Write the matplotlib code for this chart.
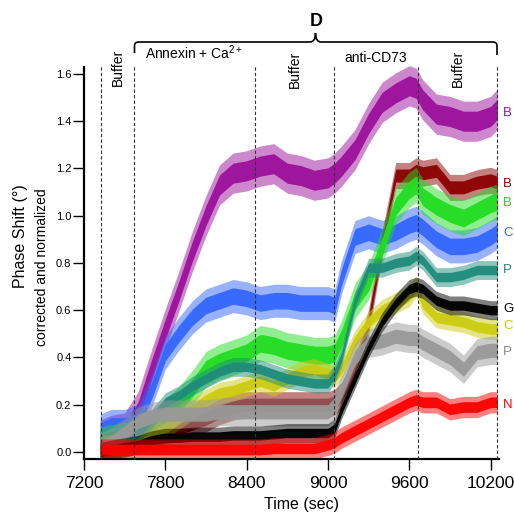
import numpy as np
import matplotlib
matplotlib.use('Agg')
import matplotlib.pyplot as plt
from matplotlib.path import Path
from matplotlib.patches import PathPatch
import matplotlib.transforms as mtransforms

plt.rcParams['font.family'] = ['Liberation Sans', 'DejaVu Sans']
plt.rcParams['mathtext.fontset'] = 'custom'
plt.rcParams['mathtext.rm'] = 'Liberation Sans'
plt.rcParams['mathtext.it'] = 'Liberation Sans:italic'
plt.rcParams['mathtext.bf'] = 'Liberation Sans:bold'

# ---------------- data ----------------
time_s = [7320, 7400, 7500, 7600, 7700, 7800, 7900, 8000, 8100, 8200, 8300,
          8400, 8500, 8600, 8700, 8800, 8900, 9000, 9050, 9100, 9200, 9300,
          9400, 9500, 9600, 9650, 9700, 9800, 9900, 10000, 10100, 10200, 10250]

purple = [0.05, 0.07, 0.08, 0.17, 0.35, 0.52, 0.68, 0.85, 1.00, 1.13, 1.18,
          1.19, 1.21, 1.22, 1.18, 1.17, 1.15, 1.16, 1.18, 1.21, 1.28, 1.39,
          1.48, 1.52, 1.55, 1.54, 1.49, 1.43, 1.42, 1.40, 1.40, 1.42, 1.45]
darkred = [0.02, 0.03, 0.04, 0.05, 0.07, 0.09, 0.10, 0.12, 0.14, 0.17, 0.19,
           0.20, 0.20, 0.20, 0.20, 0.20, 0.20, 0.20, 0.21, 0.24, 0.34, 0.55,
           0.88, 1.17, 1.17, 1.19, 1.18, 1.19, 1.12, 1.12, 1.14, 1.15, 1.14]
green = [0.03, 0.04, 0.05, 0.07, 0.10, 0.15, 0.20, 0.27, 0.35, 0.38, 0.40,
         0.42, 0.46, 0.45, 0.43, 0.42, 0.41, 0.41, 0.42, 0.48, 0.64, 0.72,
         0.87, 1.04, 1.11, 1.13, 1.08, 1.04, 1.01, 0.99, 1.02, 1.05, 1.06]
blue = [0.09, 0.11, 0.11, 0.13, 0.26, 0.42, 0.50, 0.57, 0.62, 0.64, 0.66,
        0.65, 0.63, 0.64, 0.64, 0.63, 0.63, 0.63, 0.62, 0.74, 0.91, 0.93,
        0.91, 0.93, 0.96, 0.97, 0.95, 0.90, 0.87, 0.87, 0.88, 0.91, 0.93]
teal = [0.03, 0.04, 0.05, 0.08, 0.14, 0.21, 0.24, 0.28, 0.31, 0.34, 0.36,
        0.36, 0.35, 0.33, 0.31, 0.30, 0.29, 0.29, 0.33, 0.40, 0.64, 0.78,
        0.78, 0.80, 0.81, 0.83, 0.81, 0.74, 0.74, 0.75, 0.77, 0.77, 0.77]
yellow = [0.02, 0.03, 0.04, 0.05, 0.07, 0.10, 0.14, 0.18, 0.22, 0.25, 0.26,
          0.28, 0.30, 0.28, 0.31, 0.34, 0.35, 0.33, 0.32, 0.35, 0.47, 0.55,
          0.60, 0.63, 0.66, 0.70, 0.63, 0.57, 0.56, 0.55, 0.53, 0.52, 0.52]
black = [0.00, 0.01, 0.02, 0.03, 0.05, 0.06, 0.06, 0.065, 0.065, 0.065, 0.07,
         0.07, 0.07, 0.075, 0.08, 0.08, 0.08, 0.08, 0.10, 0.18, 0.31, 0.44,
         0.55, 0.63, 0.69, 0.70, 0.69, 0.64, 0.62, 0.62, 0.61, 0.60, 0.60]
gray = [0.02, 0.04, 0.08, 0.13, 0.15, 0.16, 0.16, 0.16, 0.16, 0.17, 0.17,
        0.17, 0.17, 0.17, 0.17, 0.17, 0.17, 0.17, 0.20, 0.26, 0.40, 0.46,
        0.47, 0.49, 0.48, 0.48, 0.46, 0.43, 0.40, 0.35, 0.42, 0.43, 0.43]
red = [0.01, 0.01, 0.01, 0.01, 0.01, 0.01, 0.01, 0.01, 0.01, 0.01, 0.01,
       0.01, 0.01, 0.015, 0.015, 0.015, 0.015, 0.03, 0.04, 0.06, 0.09, 0.12,
       0.15, 0.18, 0.21, 0.22, 0.21, 0.21, 0.18, 0.19, 0.19, 0.21, 0.21]

# noise half-width of each trace
series_names = ['purple', 'blue', 'darkred', 'green', 'yellow', 'teal', 'gray', 'black', 'red']
series_values = [purple, blue, darkred, green, yellow, teal, gray, black, red]
series_spread = [0.085, 0.07, 0.055, 0.075, 0.045, 0.04, 0.06, 0.04, 0.045]
series_colors = ['#9C109C', '#3366FF', '#8B0000', '#22DD22', '#CCCC11',
                 '#1E8C7C', '#999999', '#000000', '#FF0000']

right_labels = ['B', 'B', 'B', 'C', 'P', 'G', 'C', 'P', 'N']
right_label_y = [1.435, 1.134, 1.054, 0.927, 0.770, 0.605, 0.533, 0.423, 0.199]
right_label_colors = ['#9C109C', '#8B0000', '#22CC22', '#3366FF', '#1E8C7C',
                      '#000000', '#CCCC00', '#888888', '#FF0000']

event_times = [7325, 7569, 8462, 9045, 9665, 10248]
xticks = [7200, 7800, 8400, 9000, 9600, 10200]
yticks = [0.0, 0.2, 0.4, 0.6, 0.8, 1.0, 1.2, 1.4, 1.6]

# ---------------- figure ----------------
W, H = 514, 512
fig = plt.figure(figsize=(W / 100, H / 100), dpi=100)

def fx(px):
    return px / W

def fy(py):
    return 1 - py / H

ax = fig.add_axes([fx(84), fy(459), fx(499) - fx(84), fy(65) - fy(459)])
ax.set_xlim(7200, 10262)
ax.set_ylim(-0.03, 1.638)

t = np.array(time_s, dtype=float)
for name, vals, hw, col in zip(series_names, series_values, series_spread, series_colors):
    v = np.array(vals)
    ax.fill_between(t, v - hw, v + hw, color=col, alpha=0.5, lw=0)
    ax.fill_between(t, v - 0.5 * hw, v + 0.5 * hw, color=col, alpha=0.95, lw=0)

for et in event_times:
    ax.axvline(et, color='#333333', lw=0.8, ls=(0, (3, 2)), zorder=5)

for s in ['top', 'right']:
    ax.spines[s].set_visible(False)
for s in ['left', 'bottom']:
    ax.spines[s].set_linewidth(1.6)
ax.spines['left'].set_bounds(-0.03, 1.63)

ax.set_xticks(xticks)
ax.set_xticklabels([str(x) for x in xticks])
ax.set_yticks(yticks)
ax.set_yticklabels(['%.1f' % y for y in yticks])
ax.tick_params(axis='x', length=8, width=1, labelsize=12.5, pad=4)
ax.tick_params(axis='y', length=8, width=1, labelsize=8, pad=1)

# axis titles
fig.text(fx(302), fy(509), 'Time (sec)', fontsize=11.5, ha='center', va='baseline')
fig.text(fx(21), fy(236), 'Phase Shift (°)', fontsize=11.5, rotation=90,
         ha='center', va='center')
fig.text(fx(42), fy(267), 'corrected and normalized', fontsize=10, rotation=90,
         ha='center', va='center')

# right-hand trace labels
trans_r = mtransforms.blended_transform_factory(fig.transFigure, ax.transData)
for lab, yv, col in zip(right_labels, right_label_y, right_label_colors):
    fig.text(fx(503), yv, lab, transform=trans_r, color=col, fontsize=9.5,
             ha='left', va='center')

# phase labels on top
trans_top = mtransforms.blended_transform_factory(ax.transData, fig.transFigure)
ax.text((event_times[0] + event_times[1]) / 2, fy(67), 'Buffer', transform=trans_top,
        rotation=90, ha='center', va='center', fontsize=10, clip_on=False)
ax.text((event_times[2] + event_times[3]) / 2, fy(69), 'Buffer', transform=trans_top,
        rotation=90, ha='center', va='center', fontsize=10, clip_on=False)
ax.text((event_times[4] + event_times[5]) / 2, fy(68), 'Buffer', transform=trans_top,
        rotation=90, ha='center', va='center', fontsize=10, clip_on=False)
ax.text((event_times[1] + event_times[2]) / 2, fy(59), r'Annexin + Ca$^{2+}$',
        transform=trans_top, ha='center', va='baseline', fontsize=10, clip_on=False)
ax.text((event_times[3] + event_times[4]) / 2, fy(62), 'anti-CD73',
        transform=trans_top, ha='center', va='baseline', fontsize=10, clip_on=False)

# brace
pts = [(134.5, 53), (134.5, 46), (134.5, 42), (138.5, 42), (310, 42),
       (315.5, 42), (315.5, 33), (315.5, 42), (321, 42), (493, 42),
       (497, 42), (497, 46), (497, 55)]
codes = [Path.MOVETO, Path.LINETO, Path.CURVE3, Path.CURVE3, Path.LINETO,
         Path.CURVE3, Path.CURVE3, Path.CURVE3, Path.CURVE3, Path.LINETO,
         Path.CURVE3, Path.CURVE3, Path.LINETO]
brace = Path([(fx(x), fy(y)) for x, y in pts], codes)
fig.patches.append(PathPatch(brace, transform=fig.transFigure, fill=False,
                             lw=1.2, color='black'))
fig.text(fx(316), fy(22), 'D', fontsize=13, fontweight='bold', ha='center', va='center')

fig.savefig('out.png', dpi=100)
